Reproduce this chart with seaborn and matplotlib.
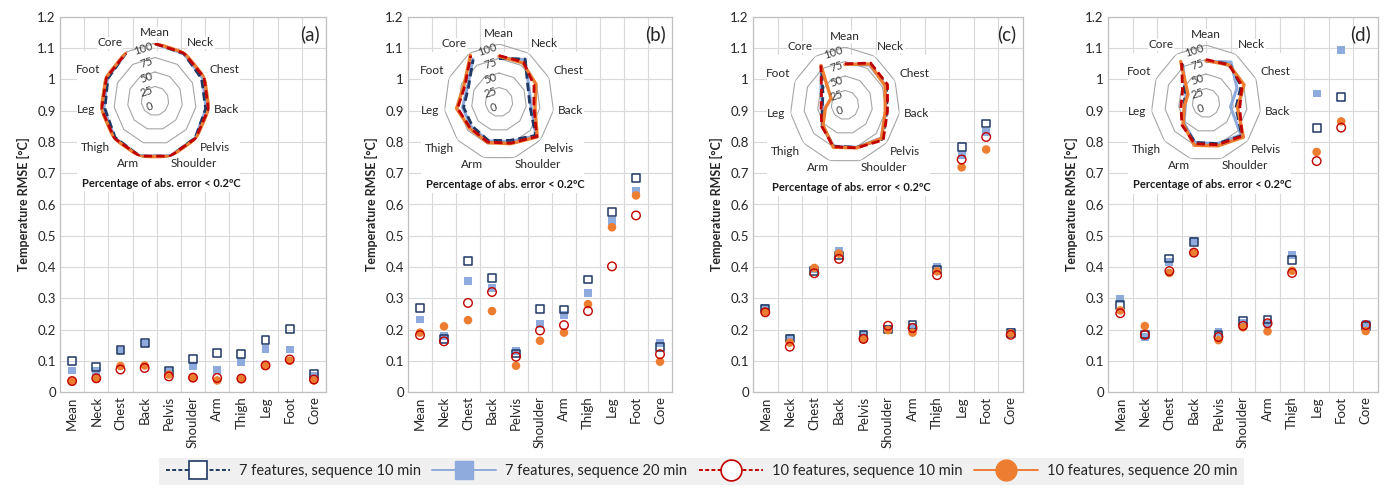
import numpy as np
import pandas as pd
import matplotlib
matplotlib.use("Agg")
import matplotlib.pyplot as plt
import seaborn as sns
from matplotlib.lines import Line2D
from matplotlib.patches import Rectangle

sns.set_theme(style="white")
plt.rcParams["font.family"] = ["Lato", "DejaVu Sans"]

# ---------------- data ----------------
parts = ["Mean", "Neck", "Chest", "Back", "Pelvis", "Shoulder", "Arm", "Thigh", "Leg", "Foot", "Core"]
series = ["7 features, sequence 10 min", "7 features, sequence 20 min",
          "10 features, sequence 10 min", "10 features, sequence 20 min"]
panel_tags = ["(a)", "(b)", "(c)", "(d)"]
y_ticks = [0, 0.1, 0.2, 0.3, 0.4, 0.5, 0.6, 0.7, 0.8, 0.9, 1.0, 1.1, 1.2]
radar_levels = [0, 25, 50, 75, 100]

# RMSE [°C]
rmse_a_7f10 = [0.098, 0.079, 0.135, 0.157, 0.068, 0.106, 0.126, 0.121, 0.167, 0.201, 0.057]
rmse_a_7f20 = [0.069, 0.066, 0.133, 0.155, 0.064, 0.082, 0.071, 0.095, 0.138, 0.136, 0.053]
rmse_a_10f10 = [0.035, 0.044, 0.072, 0.077, 0.050, 0.046, 0.045, 0.043, 0.085, 0.104, 0.040]
rmse_a_10f20 = [0.034, 0.042, 0.083, 0.085, 0.056, 0.045, 0.037, 0.042, 0.084, 0.100, 0.037]

rmse_b_7f10 = [0.270, 0.170, 0.420, 0.366, 0.123, 0.266, 0.264, 0.360, 0.575, 0.684, 0.144]
rmse_b_7f20 = [0.232, 0.179, 0.355, 0.332, 0.132, 0.217, 0.247, 0.317, 0.548, 0.643, 0.158]
rmse_b_10f10 = [0.182, 0.162, 0.285, 0.320, 0.113, 0.197, 0.214, 0.259, 0.402, 0.565, 0.121]
rmse_b_10f20 = [0.190, 0.210, 0.230, 0.259, 0.084, 0.164, 0.190, 0.281, 0.527, 0.629, 0.097]

rmse_c_7f10 = [0.267, 0.171, 0.388, 0.437, 0.184, 0.200, 0.215, 0.392, 0.783, 0.859, 0.190]
rmse_c_7f20 = [0.270, 0.173, 0.392, 0.451, 0.187, 0.202, 0.208, 0.401, 0.759, 0.831, 0.192]
rmse_c_10f10 = [0.255, 0.145, 0.380, 0.426, 0.170, 0.212, 0.205, 0.374, 0.744, 0.816, 0.183]
rmse_c_10f20 = [0.257, 0.158, 0.397, 0.443, 0.168, 0.198, 0.190, 0.386, 0.719, 0.776, 0.188]

rmse_d_7f10 = [0.279, 0.184, 0.427, 0.480, 0.183, 0.227, 0.232, 0.422, 0.844, 0.944, 0.211]
rmse_d_7f20 = [0.297, 0.176, 0.417, 0.482, 0.191, 0.221, 0.218, 0.438, 0.955, 1.095, 0.218]
rmse_d_10f10 = [0.252, 0.183, 0.387, 0.446, 0.176, 0.212, 0.220, 0.381, 0.739, 0.846, 0.214]
rmse_d_10f20 = [0.261, 0.211, 0.381, 0.446, 0.166, 0.207, 0.194, 0.388, 0.768, 0.866, 0.195]

# Percentage of abs. error < 0.2 °C (radar insets)
pct_a_7f10 = [99, 97, 93, 93, 97, 99, 99, 96, 92, 94, 98]
pct_a_7f20 = [99, 97, 95, 94, 97, 99, 99, 97, 94, 95, 98]
pct_a_10f10 = [99, 98, 98, 98, 98, 99, 99, 98, 98, 97, 98]
pct_a_10f20 = [100, 99, 99, 99, 99, 100, 100, 99, 99, 98, 99]

pct_b_7f10 = [75, 88, 58, 57, 88, 69, 69, 64, 65, 61, 87]
pct_b_7f20 = [76, 87, 60, 59, 89, 71, 70, 66, 67, 63, 88]
pct_b_10f10 = [80, 82, 70, 64, 91, 74, 72, 69, 76, 68, 95]
pct_b_10f20 = [79, 80, 74, 66, 92, 75, 73, 70, 78, 70, 96]

pct_c_7f10 = [70, 84, 83, 77, 90, 76, 74, 55, 42, 44, 79]
pct_c_7f20 = [70, 82, 81, 75, 87, 76, 74, 54, 40, 48, 79]
pct_c_10f10 = [71, 86, 85, 78, 92, 77, 75, 56, 44, 47, 81]
pct_c_10f20 = [70, 84, 80, 74, 88, 77, 76, 53, 36, 28, 81]

pct_d_7f10 = [73, 80, 70, 55, 86, 73, 71, 55, 40, 42, 80]
pct_d_7f20 = [72, 84, 62, 45, 84, 73, 71, 53, 38, 40, 78]
pct_d_10f10 = [75, 78, 72, 62, 87, 75, 73, 58, 46, 47, 82]
pct_d_10f20 = [73, 78, 76, 58, 90, 77, 76, 55, 40, 36, 85]

rmse_panels = [
    [rmse_a_7f10, rmse_a_7f20, rmse_a_10f10, rmse_a_10f20],
    [rmse_b_7f10, rmse_b_7f20, rmse_b_10f10, rmse_b_10f20],
    [rmse_c_7f10, rmse_c_7f20, rmse_c_10f10, rmse_c_10f20],
    [rmse_d_7f10, rmse_d_7f20, rmse_d_10f10, rmse_d_10f20],
]
pct_panels = [
    [pct_a_7f10, pct_a_7f20, pct_a_10f10, pct_a_10f20],
    [pct_b_7f10, pct_b_7f20, pct_b_10f10, pct_b_10f20],
    [pct_c_7f10, pct_c_7f20, pct_c_10f10, pct_c_10f20],
    [pct_d_7f10, pct_d_7f20, pct_d_10f10, pct_d_10f20],
]

# ---------------- style ----------------
NAVY = "#1F3864"
LBLUE = "#8FAADC"
RED = "#C00000"
ORANGE = "#ED7D31"
GRID = "#D9D9D9"
SPINE = "#BFBFBF"
RING = "#A6A6A6"
TXT = "#262626"

W, H = 1389, 494
fig = plt.figure(figsize=(W / 100, H / 100), dpi=100)

ax_px = [(60, 326), (408, 672), (753, 1023), (1108, 1378)]
top_px, bot_px = 17, 392
radar_c = [(155, 101), (499, 102), (845, 105), (1206, 103)]
rx, ry = 55, 58

scatter_style = {
    0: dict(marker="s", s=32, facecolors="none", edgecolors=NAVY, linewidths=1.1),
    1: dict(marker="s", s=32, facecolors=LBLUE, edgecolors="none", linewidths=0),
    2: dict(marker="o", s=38, facecolors="none", edgecolors=RED, linewidths=1.0),
    3: dict(marker="o", s=38, facecolors=ORANGE, edgecolors="none", linewidths=0),
}
order = [1, 0, 3, 2]

radar_style = {
    1: dict(color=LBLUE, lw=2.2, ls="-"),
    0: dict(color=NAVY, lw=2.0, ls=(0, (3, 1.5))),
    3: dict(color=ORANGE, lw=2.4, ls="-"),
    2: dict(color=RED, lw=2.0, ls=(0, (3, 1.5))),
}

ang = np.linspace(0, 2 * np.pi, len(parts), endpoint=False)
ang_closed = np.append(ang, ang[0])

for p in range(4):
    L, R = ax_px[p]
    ax = fig.add_axes([L / W, 1 - bot_px / H, (R - L) / W, (bot_px - top_px) / H])
    ax.set_axisbelow(True)
    for z, k in enumerate(order):
        df = pd.DataFrame({"part": parts, "rmse": rmse_panels[p][k]})
        sns.scatterplot(data=df, x="part", y="rmse", ax=ax, zorder=3 + z, legend=False,
                        **scatter_style[k])
    ax.set_xlim(-0.5, len(parts) - 0.5)
    ax.set_ylim(0, 1.2)
    ax.set_xticks(range(len(parts)))
    ax.set_xticklabels(parts, rotation=90, fontsize=9.5, color=TXT)
    ax.set_xticks(np.arange(0.5, len(parts) - 1, 1.0), minor=True)
    ax.set_yticks(y_ticks)
    ax.set_yticklabels([f"{v:g}" for v in y_ticks], fontsize=9.5, color=TXT)
    ax.grid(False)
    ax.yaxis.grid(True, color=GRID, lw=0.8)
    ax.xaxis.grid(True, which="minor", color=GRID, lw=0.8)
    ax.tick_params(which="both", length=0, pad=3)
    for s in ax.spines.values():
        s.set_color(SPINE)
        s.set_linewidth(0.9)
    ax.set_xlabel("")
    ax.set_ylabel("Temperature RMSE [°C]", fontsize=9, fontweight="bold", color=TXT, labelpad=5)
    ax.text(0.975, 0.955, panel_tags[p], transform=ax.transAxes, ha="right", va="center",
            fontsize=13.5, color=TXT)

    # white area behind radar inset
    cx, cy = radar_c[p]
    x0 = (cx - 78 - L) / (R - L)
    x1 = (cx + 85 - L) / (R - L)
    y0 = (bot_px - (cy + 91)) / (bot_px - top_px)
    y1 = (bot_px - (cy - 50)) / (bot_px - top_px)
    ax.add_patch(Rectangle((x0, y0), x1 - x0, y1 - y0, transform=ax.transAxes,
                           facecolor="white", edgecolor="none", zorder=1.5))
    ax.text((cx + 6 - L) / (R - L), (bot_px - (cy + 82)) / (bot_px - top_px),
            "Percentage of abs. error < 0.2ºC", transform=ax.transAxes,
            ha="center", va="center", fontsize=8, fontweight="bold", color="#1a1a1a", zorder=5)

    # radar inset
    pax = fig.add_axes([(cx - rx) / W, 1 - (cy + ry) / H, 2 * rx / W, 2 * ry / H],
                       projection="polar", zorder=5)
    pax.set_aspect("auto")
    pax.set_theta_zero_location("N")
    pax.set_theta_direction(-1)
    pax.patch.set_alpha(0)
    pax.spines["polar"].set_visible(False)
    pax.grid(False)
    for lev in radar_levels[1:]:
        pax.plot(ang_closed, [lev] * len(ang_closed), color=RING, lw=0.8, zorder=1)
    for z, k in enumerate(order):
        vals = list(pct_panels[p][k]) + [pct_panels[p][k][0]]
        rs = radar_style[k]
        sns.lineplot(x=ang_closed, y=vals, ax=pax, sort=False, color=rs["color"],
                     lw=rs["lw"], ls=rs["ls"], zorder=2 + z, legend=False)
    pax.set_ylim(0, 100)
    pax.set_yticks([])
    pax.set_xticks([])
    for th, name in zip(ang, parts):
        sx, sy = np.sin(th), np.cos(th)
        ha = "left" if sx > 0.2 else ("right" if sx < -0.2 else "center")
        va = "bottom" if sy > 0.3 else ("top" if sy < -0.3 else "center")
        off = 3.5 if abs(sy) < 0.9 or sy > 0 else 1.0
        pax.annotate(name, xy=(th, 100), xytext=(off * sx, off * sy), textcoords="offset points",
                     ha=ha, va=va, fontsize=8.5, color=TXT, zorder=10, annotation_clip=False,
                     bbox=dict(facecolor="white", edgecolor="none", pad=0.4))
    for lev in radar_levels:
        pax.annotate(str(lev), xy=(0, lev), xytext=(-0.5, -4), textcoords="offset points",
                     ha="right", va="center", fontsize=8, color="#404040", rotation=18,
                     zorder=10)
    pax.set_xlabel("")
    pax.set_ylabel("")

# ---------------- legend ----------------
handles = [
    Line2D([], [], color=NAVY, ls=(0, (2, 1.2)), lw=1.4, marker="s", markersize=13,
           markerfacecolor="white", markeredgecolor=NAVY, markeredgewidth=1.2),
    Line2D([], [], color=LBLUE, ls="-", lw=1.4, marker="s", markersize=13,
           markerfacecolor=LBLUE, markeredgecolor=LBLUE),
    Line2D([], [], color=RED, ls=(0, (2, 1.2)), lw=1.4, marker="o", markersize=15,
           markerfacecolor="white", markeredgecolor=RED, markeredgewidth=1.2),
    Line2D([], [], color=ORANGE, ls="-", lw=1.4, marker="o", markersize=15,
           markerfacecolor=ORANGE, markeredgecolor=ORANGE),
]
leg = fig.legend(handles, series, loc="center", bbox_to_anchor=(0.505, 0.046), ncol=4,
                 frameon=True, fontsize=10.5, handlelength=4.4, handletextpad=0.6,
                 columnspacing=0.8, borderpad=0.45, fancybox=False)
leg.get_frame().set_facecolor("#EDEDED")
leg.get_frame().set_edgecolor("none")
for t in leg.get_texts():
    t.set_color(TXT)

fig.savefig("out.png", dpi=100, facecolor="white")
